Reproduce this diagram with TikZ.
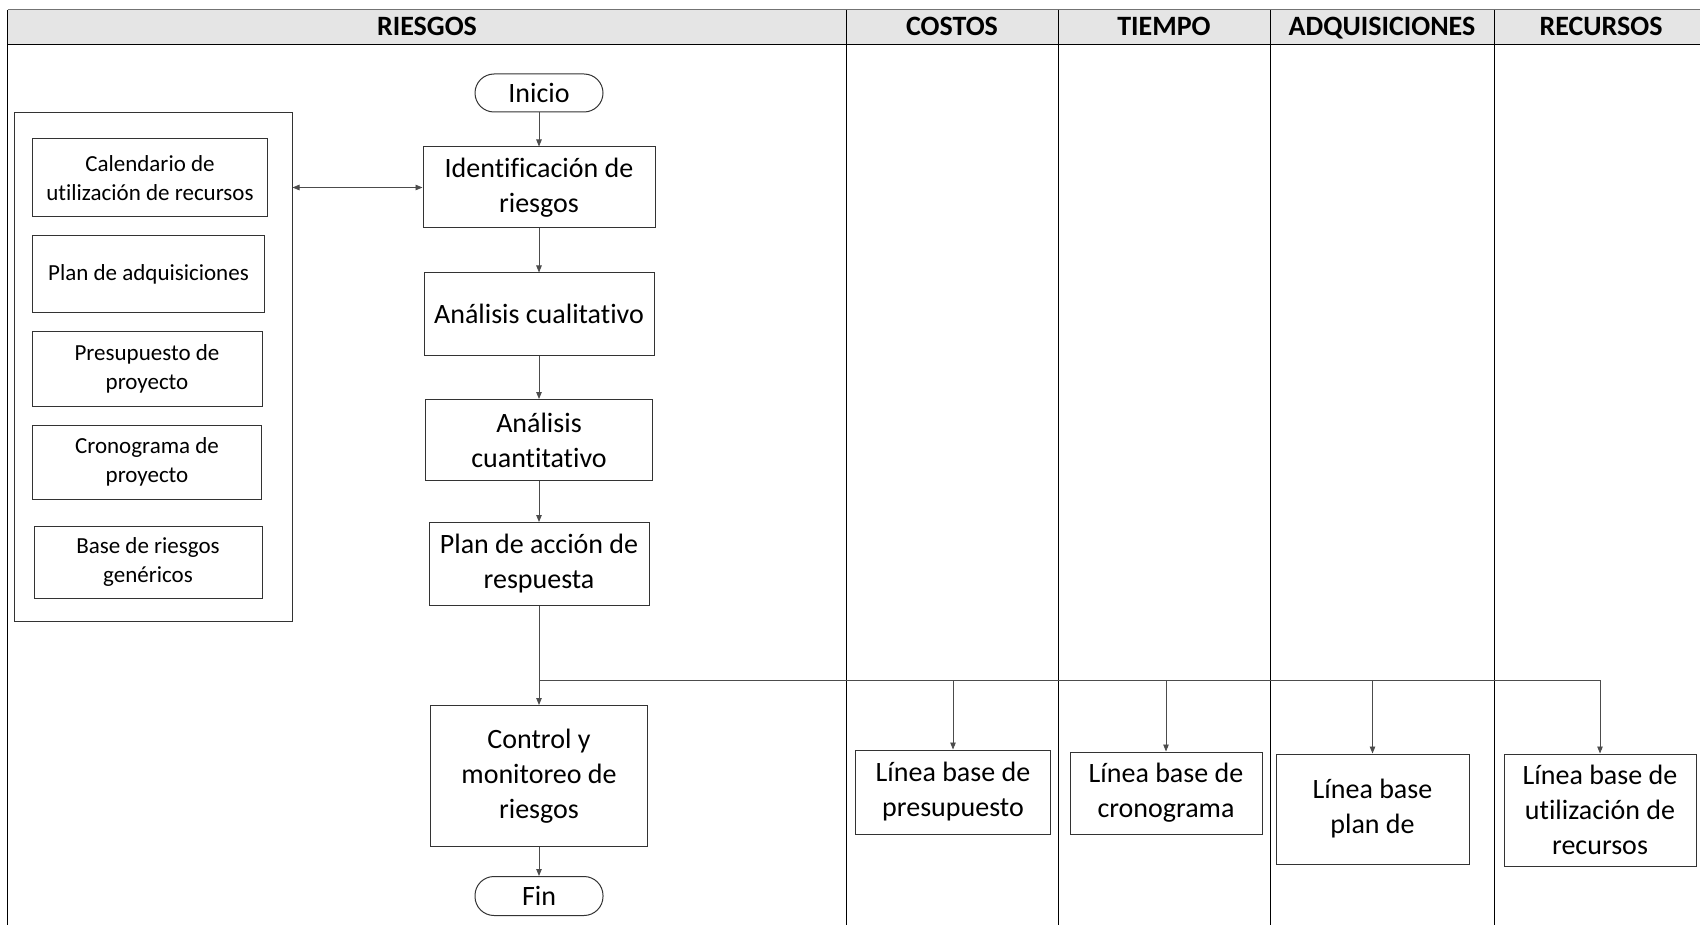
\documentclass[tikz,border=0pt]{standalone}
\usepackage{fontspec}
\setmainfont{Carlito}[Ligatures={NoCommon}]
\usetikzlibrary{arrows.meta}
\begin{document}
\begin{tikzpicture}[x=1pt,y=-1pt,
  box/.style={draw=black!80, line width=1pt, fill=white, align=center, inner sep=2pt},
  flow/.style={box, font=\fontsize{28}{35}\selectfont},
  side/.style={box, font=\fontsize{23}{29}\selectfont},
  term/.style={flow, rounded corners=19pt},
  conn/.style={draw=black!70, line width=0.9pt},
  arr/.style={conn, -{Triangle[length=7pt,width=5.5pt]}},
  darr/.style={conn, {Triangle[length=7pt,width=5.5pt]}-{Triangle[length=7pt,width=5.5pt]}},
  head/.style={font=\bfseries\fontsize{28}{34}\selectfont, anchor=base},
  lane/.style={draw=black, line width=0.9pt}]

\useasboundingbox (0,0) rectangle (1700,925);

% header band and lanes
\fill[black!10] (7.6,9.8) rectangle (1700,44.5);
\draw[line width=1.4pt, black!55] (7.6,9.8) -- (1700,9.8);
\draw[lane] (7.6,44.5) -- (1700,44.5);
\draw[lane] (7.6,9.8) -- (7.6,925);
\foreach \xx in {846.8,1058.2,1270.7,1494.1}
  \draw[lane] (\xx,9.8) -- (\xx,925);

\node[head] (hR) at (427,36) {RIESGOS};
\node[head] (hC) at (952,36) {COSTOS};
\node[head] (hT) at (1164,36) {TIEMPO};
\node[head] (hA) at (1382,36) {ADQUISICIONES};
\node[head] (hRe) at (1601,36) {RECURSOS};

% left container
\node[draw=black!80, line width=1pt, minimum width=278, minimum height=508, inner sep=0] (cont) at (153,367) {};
\node[side, minimum width=235, minimum height=78] (s1) at (150,178) {Calendario de\\utilización de recursos};
\node[side, minimum width=232, minimum height=77] (s2) at (148.5,274.5) {Plan de adquisiciones};
\node[side, minimum width=230, minimum height=75] (s3) at (147,369) {Presupuesto de\\proyecto};
\node[side, minimum width=229, minimum height=74] (s4) at (147,462) {Cronograma de\\proyecto};
\node[side, minimum width=228, minimum height=72] (s5) at (148,562) {Base de riesgos\\genéricos};

% main flow
\node[term, minimum width=128, minimum height=38] (ini) at (539,93) {Inicio};
\node[flow, minimum width=232, minimum height=81] (ident) at (539,187.5) {Identificación de\\riesgos};
\node[flow, minimum width=230, minimum height=82] (cual) at (539,314) {Análisis cualitativo};
\node[flow, minimum width=227, minimum height=81] (cuant) at (539,440) {Análisis\\cuantitativo};
\node[flow, minimum width=220, minimum height=83] (plan) at (539,564) {Plan de acción de\\respuesta};
\node[flow, minimum width=217, minimum height=141] (ctrl) at (539,776) {Control y\\monitoreo de\\riesgos};
\node[term, minimum width=128, minimum height=39] (fin) at (539,896) {Fin};

% baseline boxes
\node[flow, minimum width=195, minimum height=84] (b1) at (953,792) {Línea base de\\presupuesto};
\node[flow, minimum width=192, minimum height=82] (b2) at (1166,793) {Línea base de\\cronograma};
\node[flow, minimum width=193, minimum height=110] (b3) at (1372.5,809) {Línea base\\plan de};
\node[flow, minimum width=192, minimum height=112] (b4) at (1600,810) {Línea base de\\utilización de\\recursos};

% connectors
\draw[arr] (ini) -- (ident);
\draw[arr] (ident) -- (cual);
\draw[arr] (cual) -- (cuant);
\draw[arr] (cuant) -- (plan);
\draw[arr] (plan) -- (ctrl);
\draw[arr] (ctrl) -- (fin);
\draw[darr] (cont.east |- ident.west) -- (ident.west);

\coordinate (br) at (539,680);
\draw[conn] (br) -- (b4.north |- br);
\draw[arr] (b1.north |- br) -- (b1.north);
\draw[arr] (b2.north |- br) -- (b2.north);
\draw[arr] (b3.north |- br) -- (b3.north);
\draw[arr] (b4.north |- br) -- (b4.north);
\end{tikzpicture}
\end{document}
